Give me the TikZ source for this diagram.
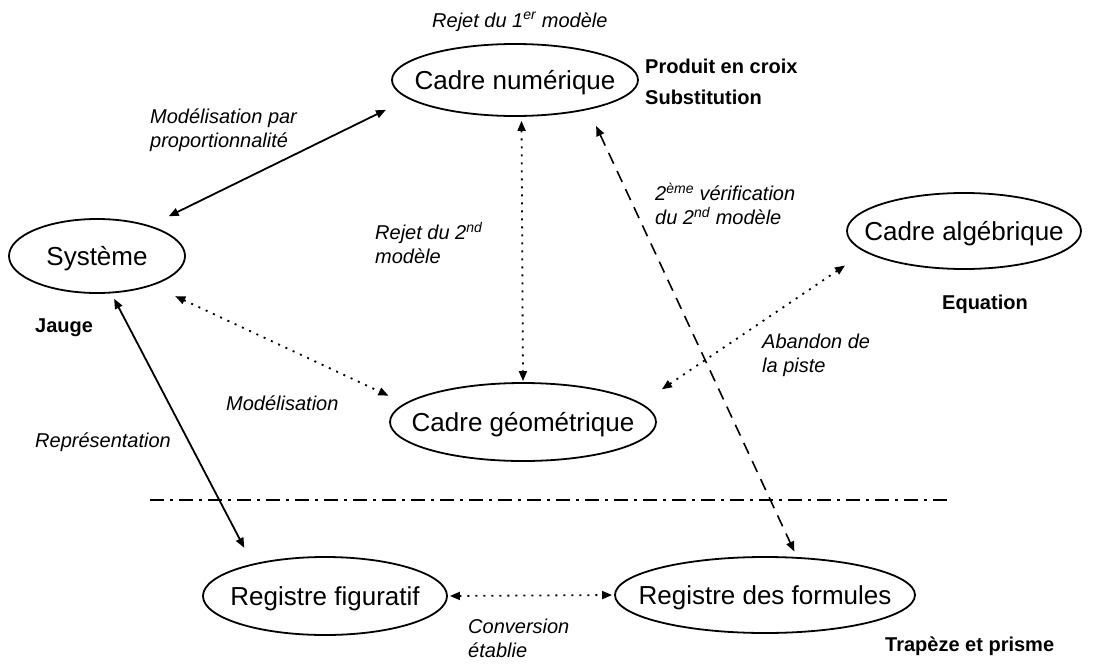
\documentclass[tikz,border=0pt]{standalone}
\usepackage{fontspec}
\setmainfont{Liberation Sans}
\usetikzlibrary{arrows.meta,shapes.geometric}
\newcommand{\ctext}[1]{\smash{\makebox[0pt]{\raisebox{-0.36em}{#1}}}}
\begin{document}
\begin{tikzpicture}[x=1pt,y=-1pt,
  ell/.style={draw,ellipse,line width=1.8pt,inner sep=0pt,font=\fontsize{26}{30}\selectfont},
  lab/.style={anchor=west,inner sep=0pt,align=left,font=\fontsize{20}{24}\selectfont\itshape},
  boldlab/.style={anchor=west,inner sep=0pt,font=\fontsize{20}{24}\selectfont\bfseries},
  tips/.style={{Triangle[length=10pt,width=8pt]}-{Triangle[length=10pt,width=8pt]}},
  solidc/.style={tips,line width=1.8pt},
  dotc/.style={tips,line width=1.8pt,dash pattern=on 2pt off 6pt},
  dashc/.style={tips,line width=1.6pt,dash pattern=on 12pt off 8pt},
  dashdot/.style={line width=1.6pt,dash pattern=on 14pt off 6pt on 3pt off 6pt},
]
\useasboundingbox (0,0) rectangle (1109,664);

% ellipses
\node[ell,minimum width=246pt,minimum height=72pt] (cn) at (515,80) {\ctext{Cadre numérique}};
\node[ell,minimum width=176pt,minimum height=74pt] (sys) at (97,256) {\ctext{Système}};
\node[ell,minimum width=234pt,minimum height=76pt] (ca) at (964,231) {\ctext{Cadre algébrique}};
\node[ell,minimum width=266pt,minimum height=78pt] (cg) at (523,422) {\ctext{Cadre géométrique}};
\node[ell,minimum width=244pt,minimum height=78pt] (rf) at (325,596) {\ctext{Registre figuratif}};
\node[ell,minimum width=300pt,minimum height=76pt] (rfo) at (765,595) {\ctext{Registre des formules}};

% labels
\node[lab] (l1) at (432,22) {Rejet du 1\textsuperscript{er} modèle};
\node[boldlab] (b1) at (645,66) {Produit en croix};
\node[boldlab] (b2) at (645,97) {Substitution};
\node[lab] (l2) at (150,130) {Modélisation par\\proportionnalité};
\node[lab] (l3) at (375,243) {Rejet du 2\textsuperscript{nd}\\modèle};
\node[lab] (l4) at (655,204) {2\textsuperscript{ème} vérification\\du 2\textsuperscript{nd} modèle};
\node[boldlab] (b3) at (942,304) {Equation};
\node[lab] (l5) at (762,355) {Abandon de\\la piste};
\node[boldlab] (b4) at (35,328) {Jauge};
\node[lab] (l6) at (226,403) {Modélisation};
\node[lab] (l7) at (35,442) {Représentation};
\node[lab] (l8) at (468,638) {Conversion\\établie};
\node[boldlab] (b5) at (885,646) {Trapèze et prisme};

% connectors
\draw[solidc,shorten <=21pt,shorten >=25pt] (sys.30) -- (cn.190.5);
\draw[dotc,shorten <=4pt,shorten >=1pt] (cn.-80) -- (cg.90);
\draw[dashc,shorten <=18pt,shorten >=6pt] (cn.-22.8) -- (rfo.50.2);
\draw[dotc,shorten <=25pt,shorten >=18pt] (sys.-28.4) -- (cg.171.8);
\draw[dotc,shorten <=25pt,shorten >=24pt] (cg.9.8) -- (ca.192.1);
\draw[solidc,shorten <=6pt,shorten >=18pt] (sys.-69.1) -- (rf.156.1);
\draw[dotc,shorten <=2pt,shorten >=2pt] (rf.0) -- (rfo.180);

% separator
\coordinate (sepl) at (150,500);
\coordinate (sepr) at (950,500);
\draw[dashdot] (sepl) -- (sepr);
\end{tikzpicture}
\end{document}
